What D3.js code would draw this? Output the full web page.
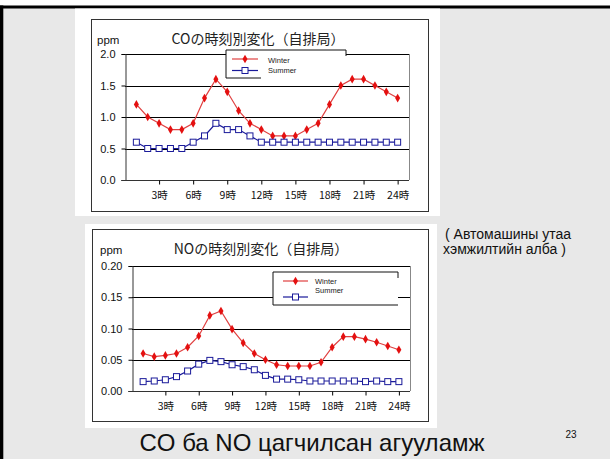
<!DOCTYPE html>
<html><head><meta charset="utf-8">
<script src="https://cdn.jsdelivr.net/npm/d3@7"></script>
<style>
html,body{margin:0;padding:0;background:#e8e8e8;}
svg{display:block;}
</style></head>
<body>
<svg id="c" width="610" height="459"></svg>
<script>
// ---- data ----
const hours = [1,2,3,4,5,6,7,8,9,10,11,12,13,14,15,16,17,18,19,20,21,22,23,24];
const xTickHours = [3,6,9,12,15,18,21,24];
const xTickLabels = ["3時","6時","9時","12時","15時","18時","21時","24時"];
const seriesNames = ["Winter","Summer"];
const coWinter = [1.2,1.0,0.9,0.8,0.8,0.9,1.3,1.6,1.4,1.1,0.9,0.8,0.7,0.7,0.7,0.8,0.9,1.2,1.5,1.6,1.6,1.5,1.4,1.3];
const coSummer = [0.6,0.5,0.5,0.5,0.5,0.6,0.7,0.9,0.8,0.8,0.7,0.6,0.6,0.6,0.6,0.6,0.6,0.6,0.6,0.6,0.6,0.6,0.6,0.6];
const coYTicks = [0.0,0.5,1.0,1.5,2.0];
const noWinter = [0.060,0.055,0.057,0.060,0.070,0.088,0.121,0.128,0.099,0.077,0.060,0.050,0.042,0.040,0.040,0.040,0.046,0.070,0.087,0.087,0.083,0.078,0.072,0.066];
const noSummer = [0.015,0.016,0.018,0.023,0.032,0.043,0.049,0.047,0.042,0.039,0.034,0.025,0.019,0.019,0.018,0.016,0.016,0.016,0.016,0.016,0.015,0.016,0.015,0.015];
const noYTicks = [0.00,0.05,0.10,0.15,0.20];
const coTitle = "COの時刻別変化（自排局）";
const noTitle = "NOの時刻別変化（自排局）";
const slideTitle = "CO ба NO цагчилсан агууламж";
const noteLines = ["( Автомашины утаа","хэмжилтийн алба )"];
const pageNumber = "23";

const svg = d3.select("#c");
const WIN = "#e41010", WINLINE = "#e04040", SUM = "#1a1a9a";

// slide frame
svg.append("rect").attr("x",0).attr("y",0).attr("width",610).attr("height",6).attr("fill","#fff");
svg.append("rect").attr("x",0).attr("y",5.5).attr("width",610).attr("height",3).attr("fill","#000");
svg.append("rect").attr("x",0).attr("y",5.5).attr("width",3.3).attr("height",460).attr("fill","#000");

function drawChart(o){
  const g = svg.append("g");
  g.append("rect").attr("x",o.img[0]).attr("y",o.img[1]).attr("width",o.img[2]-o.img[0]).attr("height",o.img[3]-o.img[1]).attr("fill","#fff");
  g.append("rect").attr("x",o.frame[0]+0.5).attr("y",o.frame[1]+0.5).attr("width",o.frame[2]-o.frame[0]).attr("height",o.frame[3]-o.frame[1])
    .attr("fill","none").attr("stroke","#333").attr("stroke-width",1);
  const x = d3.scaleLinear().domain([0,25]).range([o.plot[0],o.plot[2]]);
  const y = d3.scaleLinear().domain([o.yTicks[0],o.yTicks[o.yTicks.length-1]]).range([o.plot[3],o.plot[1]]);
  // gridlines
  g.append("g").selectAll("line").data(o.yTicks.slice(1)).join("line")
    .attr("x1",o.plot[0]).attr("x2",o.plot[2]).attr("y1",d=>Math.round(y(d))+0.5).attr("y2",d=>Math.round(y(d))+0.5)
    .attr("stroke","#000").attr("stroke-width",1);
  // right border
  g.append("line").attr("x1",o.plot[2]+0.5).attr("x2",o.plot[2]+0.5).attr("y1",o.plot[1]).attr("y2",o.plot[3]).attr("stroke","#888");
  // y axis
  const ya = d3.axisLeft(y).tickValues(o.yTicks).tickFormat(d3.format(o.fmt)).tickSize(4).tickPadding(6);
  const yg = g.append("g").attr("transform",`translate(${Math.round(o.plot[0])+0.5},0)`).call(ya);
  yg.select(".domain").attr("stroke","#333");
  yg.selectAll("text").attr("font-family","Liberation Sans, Arial, sans-serif").attr("font-size",11).attr("fill","#111");
  // x axis
  const xa = d3.axisBottom(x).tickValues(xTickHours).tickFormat((d,i)=>xTickLabels[i]).tickSize(4).tickPadding(7).tickSizeOuter(0);
  const xg = g.append("g").attr("transform",`translate(0,${Math.round(o.plot[3])+0.5})`).call(xa);
  xg.select(".domain").attr("stroke","#333").attr("d",`M${o.plot[0]-3},0H${o.plot[2]}`);
  xg.selectAll("text").attr("font-family","Noto Sans CJK JP, sans-serif").attr("font-size",10.5).attr("fill","#111");
  // ppm & title
  g.append("text").attr("x",o.ppm[0]).attr("y",o.ppm[1]).text("ppm").attr("font-family","Liberation Sans, Arial, sans-serif").attr("font-size",11.5).attr("fill","#111");
  g.append("text").attr("x",o.title[0]).attr("y",o.title[1]).attr("text-anchor","middle").text(o.titleText)
    .attr("font-family","Noto Sans CJK JP, sans-serif").attr("font-size",14).attr("fill","#222");
  // lines
  const line = d3.line().x((d,i)=>x(hours[i])).y(d=>y(d));
  g.append("path").datum(o.winter).attr("d",line).attr("fill","none").attr("stroke",WINLINE).attr("stroke-width",1.2);
  g.append("path").datum(o.summer).attr("d",line).attr("fill","none").attr("stroke",SUM).attr("stroke-width",1.2);
  const dia = d3.symbol().type(d3.symbolDiamond).size(22);
  g.append("g").selectAll("path").data(o.winter).join("path").attr("d",dia)
    .attr("transform",(d,i)=>`translate(${x(hours[i])},${y(d)})`).attr("fill",WIN);
  g.append("g").selectAll("rect").data(o.summer).join("rect")
    .attr("x",(d,i)=>x(hours[i])-3).attr("y",d=>y(d)-3).attr("width",6).attr("height",6)
    .attr("fill","#fff").attr("stroke",SUM).attr("stroke-width",1);
  // legend
  const L = o.legend;
  const lg = g.append("g");
  lg.append("rect").attr("x",L.box[0]).attr("y",L.box[1]).attr("width",L.box[2]-L.box[0]).attr("height",L.box[3]-L.box[1]).attr("fill","#fff");
  lg.append("path").attr("d",`M${L.box[2]},${L.box[1]+6}V${L.box[1]}H${L.box[0]}V${L.box[3]}H${L.bottomEnd}`)
    .attr("fill","none").attr("stroke","#111").attr("stroke-width",1);
  lg.append("line").attr("x1",L.line[0]).attr("x2",L.line[1]).attr("y1",L.rows[0]).attr("y2",L.rows[0]).attr("stroke",WINLINE).attr("stroke-width",1.2);
  lg.append("path").attr("d",dia).attr("transform",`translate(${(L.line[0]+L.line[1])/2},${L.rows[0]})`).attr("fill",WIN);
  lg.append("line").attr("x1",L.line[0]).attr("x2",L.line[1]).attr("y1",L.rows[1]).attr("y2",L.rows[1]).attr("stroke",SUM).attr("stroke-width",1.2);
  lg.append("rect").attr("x",(L.line[0]+L.line[1])/2-3).attr("y",L.rows[1]-3).attr("width",6).attr("height",6).attr("fill","#fff").attr("stroke",SUM);
  lg.selectAll("text.l").data(seriesNames).join("text").attr("class","l")
    .attr("x",L.textX).attr("y",(d,i)=>L.textY[i]).attr("dy","0.35em").text(d=>d)
    .attr("font-family","Liberation Sans, Arial, sans-serif").attr("font-size",7.5).attr("fill","#222");
}

drawChart({
  img:[75,8.5,440,216], frame:[91,19,428,211], plot:[125,54,409,180],
  yTicks:coYTicks, fmt:".1f", winter:coWinter, summer:coSummer,
  ppm:[97,44], title:[258,44], titleText:coTitle,
  legend:{box:[226,50,346,78], bottomEnd:261, rows:[59,70.5], line:[232,258], textX:268, textY:[60,70]}
});
drawChart({
  img:[85,224,437,428], frame:[92,229,428,421], plot:[132,266,410,391],
  yTicks:noYTicks, fmt:".2f", winter:noWinter, summer:noSummer,
  ppm:[100,254], title:[261,254], titleText:noTitle,
  legend:{box:[273,272,398,305], bottomEnd:398, rows:[281,297], line:[283,308], textX:315, textY:[281,290]}
});

// side note, page number, slide title
svg.selectAll("text.note").data(noteLines).join("text").attr("class","note")
  .attr("x",(d,i)=>i===0?445:443).attr("y",(d,i)=>239+i*15).text(d=>d)
  .attr("font-family","Liberation Sans, Arial, sans-serif").attr("font-size",14).attr("fill","#111");
svg.append("text").attr("x",571).attr("y",438).attr("text-anchor","middle").text(pageNumber)
  .attr("font-family","Liberation Sans, Arial, sans-serif").attr("font-size",10).attr("fill","#111");
svg.append("text").attr("x",312).attr("y",451).attr("text-anchor","middle").text(slideTitle)
  .attr("font-family","Liberation Sans, Arial, sans-serif").attr("font-size",24).attr("fill","#111");
</script>
</body></html>
